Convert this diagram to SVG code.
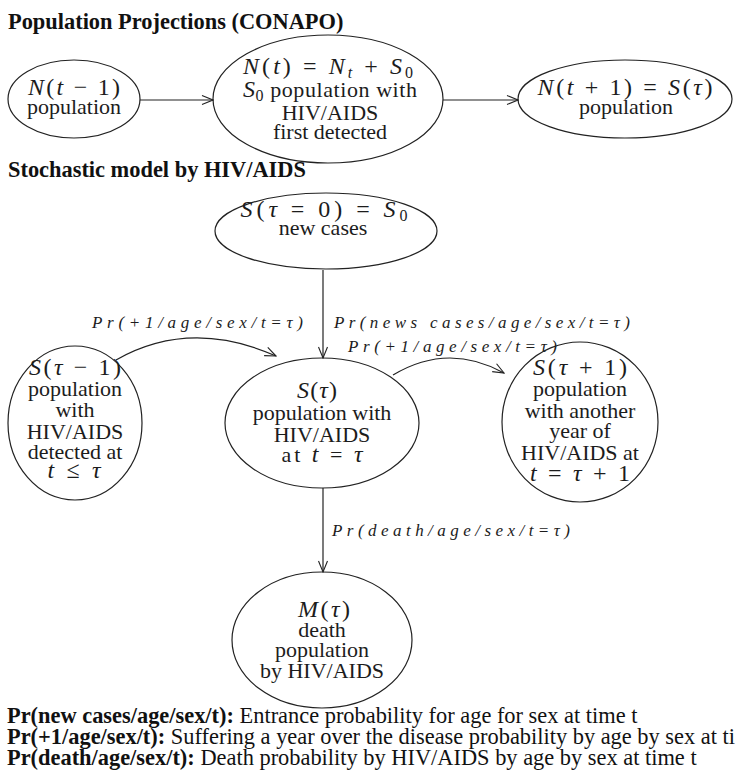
<svg xmlns="http://www.w3.org/2000/svg" width="739" height="776" viewBox="0 0 739 776">
<style>
.bg { fill: #ffffff; }
.n { fill: none; stroke: #222; stroke-width: 1.2; }
.t { font-family: "Liberation Serif", "Times New Roman", serif; font-size: 22px; fill: #1c1c1c; text-anchor: middle; }
.mt { font-size: 24px; }
.m { font-style: italic; }
.lbl { font-family: "Liberation Serif", "Times New Roman", serif; font-style: italic; font-size: 17px; fill: #1c1c1c; }
.h { font-family: "Liberation Serif", "Times New Roman", serif; font-weight: bold; font-size: 22.4px; fill: #111; }
.lg { font-family: "Liberation Serif", "Times New Roman", serif; font-size: 22.4px; fill: #111; }
.e { fill: none; stroke: #222; stroke-width: 1.2; }
</style>
<defs>
<marker id="ah" markerWidth="13" markerHeight="11" refX="12" refY="5.5" orient="auto" markerUnits="userSpaceOnUse">
<path d="M1,1 L12,5.5 L1,10" fill="none" stroke="#222" stroke-width="1.1"/>
</marker>
</defs>
<rect class="bg" x="0" y="0" width="739" height="776"/>

<text class="h" x="8" y="29">Population Projections (CONAPO)</text>
<text class="h" x="8" y="177">Stochastic model by HIV/AIDS</text>

<g id="connectors">
<line class="e" x1="140" y1="100" x2="213" y2="100" marker-end="url(#ah)"/>
<line class="e" x1="443" y1="100" x2="518" y2="100" marker-end="url(#ah)"/>
<line class="e" x1="323" y1="270" x2="323" y2="358" marker-end="url(#ah)"/>
<path class="e" d="M116,360 Q190,318 276,356" marker-end="url(#ah)"/>
<path class="e" d="M393,375 Q448,342 504,373" marker-end="url(#ah)"/>
<line class="e" x1="323" y1="488" x2="323" y2="572" marker-end="url(#ah)"/>
<text class="lbl" x="92" y="328" textLength="211" lengthAdjust="spacing">Pr(+1/age/sex/t=τ)</text>
<text class="lbl" x="334" y="328" textLength="296" lengthAdjust="spacing">Pr(news cases/age/sex/t=τ)</text>
<text class="lbl" x="348" y="352" textLength="209" lengthAdjust="spacing">Pr(+1/age/sex/t=τ)</text>
<text class="lbl" x="332" y="536" textLength="238" lengthAdjust="spacing">Pr(death/age/sex/t=τ)</text>
</g>

<g id="n-prev">
<ellipse class="n" cx="74" cy="99" rx="66" ry="39"/>
<text class="t mt" x="74" y="95" textLength="92" lengthAdjust="spacing"><tspan class="m">N</tspan>(<tspan class="m">t</tspan> − 1)</text>
<text class="t" x="74" y="114">population</text>
</g>

<g id="n-now">
<ellipse class="n" cx="328" cy="99" rx="115" ry="64"/>
<text class="t mt" x="328" y="74" textLength="170" lengthAdjust="spacing"><tspan class="m">N</tspan>(<tspan class="m">t</tspan>) = <tspan class="m">N</tspan><tspan class="m" font-size="16" dy="4">t</tspan><tspan dy="-4"> + </tspan><tspan class="m">S</tspan><tspan font-size="16" dy="4">0</tspan></text>
<text class="t" x="330" y="97" textLength="174" lengthAdjust="spacing"><tspan class="m" font-size="24">S</tspan><tspan font-size="16" dy="4">0</tspan><tspan dy="-4"> population with</tspan></text>
<text class="t" x="330" y="120">HIV/AIDS</text>
<text class="t" x="330" y="139">first detected</text>
</g>

<g id="n-next">
<ellipse class="n" cx="625" cy="99" rx="107" ry="39"/>
<text class="t mt" x="625" y="95" textLength="175" lengthAdjust="spacing"><tspan class="m">N</tspan>(<tspan class="m">t</tspan> + 1) = <tspan class="m">S</tspan>(<tspan class="m">τ</tspan>)</text>
<text class="t" x="626" y="114">population</text>
</g>

<g id="s0">
<ellipse class="n" cx="326" cy="231" rx="111" ry="38"/>
<text class="t mt" x="324" y="217" textLength="167" lengthAdjust="spacing"><tspan class="m">S</tspan>(<tspan class="m">τ</tspan> = 0) = <tspan class="m">S</tspan><tspan font-size="16" dy="4">0</tspan></text>
<text class="t" x="323" y="235" font-size="17">new cases</text>
</g>

<g id="s-prev">
<ellipse class="n" cx="75" cy="423" rx="67" ry="77"/>
<text class="t mt" x="75" y="375" textLength="92" lengthAdjust="spacing"><tspan class="m">S</tspan>(<tspan class="m">τ</tspan> − 1)</text>
<text class="t" x="75" y="396">population</text>
<text class="t" x="75" y="417">with</text>
<text class="t" x="75" y="439">HIV/AIDS</text>
<text class="t" x="75" y="459">detected at</text>
<text class="t mt" x="74" y="478" textLength="53" lengthAdjust="spacing"><tspan class="m">t</tspan> ≤ <tspan class="m">τ</tspan></text>
</g>

<g id="s-now">
<ellipse class="n" cx="322" cy="423" rx="97" ry="65"/>
<text class="t mt" x="317" y="398" textLength="40" lengthAdjust="spacing"><tspan class="m">S</tspan>(<tspan class="m">τ</tspan>)</text>
<text class="t" x="322" y="420">population with</text>
<text class="t" x="322" y="442">HIV/AIDS</text>
<text class="t" x="322" y="462" textLength="81" lengthAdjust="spacing">at <tspan class="m" font-size="24">t</tspan> = <tspan class="m" font-size="24">τ</tspan></text>
</g>

<g id="s-next">
<ellipse class="n" cx="580" cy="422" rx="78" ry="80"/>
<text class="t mt" x="580" y="375" textLength="94" lengthAdjust="spacing"><tspan class="m">S</tspan>(<tspan class="m">τ</tspan> + 1)</text>
<text class="t" x="580" y="396">population</text>
<text class="t" x="580" y="418">with another</text>
<text class="t" x="580" y="438">year of</text>
<text class="t" x="580" y="460">HIV/AIDS at</text>
<text class="t mt" x="580" y="481" textLength="100" lengthAdjust="spacing"><tspan class="m">t</tspan> = <tspan class="m">τ</tspan> + 1</text>
</g>

<g id="m-death">
<ellipse class="n" cx="322" cy="640" rx="90" ry="68"/>
<text class="t mt" x="324" y="617" textLength="52" lengthAdjust="spacing"><tspan class="m">M</tspan>(<tspan class="m">τ</tspan>)</text>
<text class="t" x="322" y="637">death</text>
<text class="t" x="322" y="657">population</text>
<text class="t" x="322" y="678">by HIV/AIDS</text>
</g>

<g id="legend">
<text class="lg" x="7" y="723"><tspan font-weight="bold">Pr(new cases/age/sex/t):</tspan> Entrance probability for age for sex at time t</text>
<text class="lg" x="7" y="744"><tspan font-weight="bold">Pr(+1/age/sex/t):</tspan> Suffering a year over the disease probability by age by sex at ti</text>
<text class="lg" x="7" y="765"><tspan font-weight="bold">Pr(death/age/sex/t):</tspan> Death probability by HIV/AIDS by age by sex at time t</text>
</g>
</svg>
